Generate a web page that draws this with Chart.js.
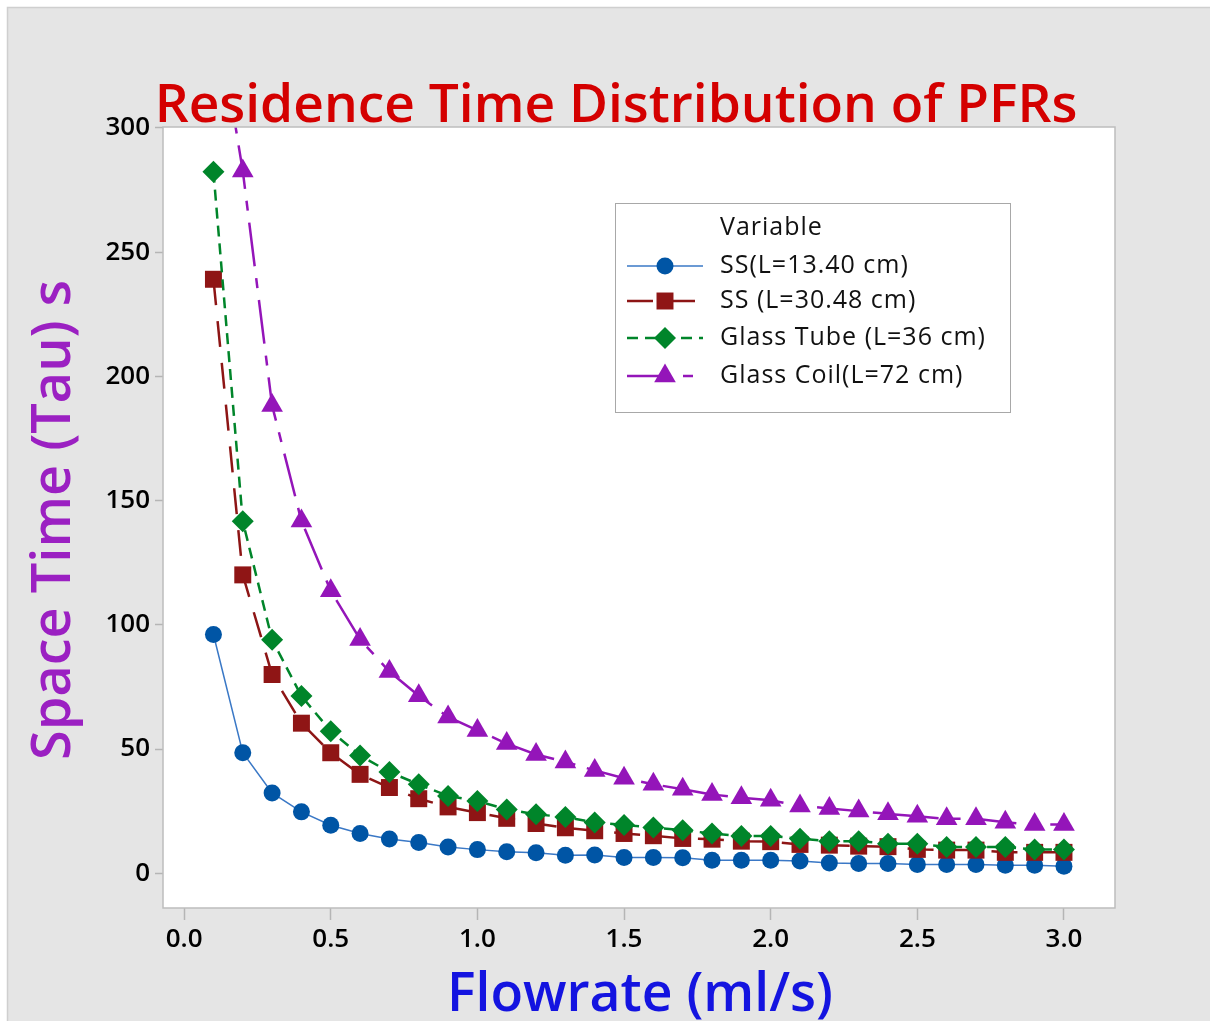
<!DOCTYPE html>
<html>
<head>
<meta charset="utf-8">
<title>Residence Time Distribution of PFRs</title>
<script src="https://cdn.jsdelivr.net/npm/chart.js@4.4.1/dist/chart.umd.min.js"></script>
<style>
  html, body { margin: 0; padding: 0; background: #ffffff; }
  #wrap { width: 1210px; height: 1021px; position: relative; }
</style>
</head>
<body>
<div id="wrap"><canvas id="rtd" width="1210" height="1021"></canvas></div>
<script>

// flowrate (ml/s)
var flowrate = [0.1, 0.2, 0.3, 0.4, 0.5, 0.6, 0.7, 0.8, 0.9, 1.0,
                1.1, 1.2, 1.3, 1.4, 1.5, 1.6, 1.7, 1.8, 1.9, 2.0,
                2.1, 2.2, 2.3, 2.4, 2.5, 2.6, 2.7, 2.8, 2.9, 3.0];

// space time (s)
var ss1340 = [96.1, 48.5, 32.3, 24.7, 19.3, 16.0, 13.8, 12.4, 10.6, 9.5,
              8.6, 8.2, 7.2, 7.3, 6.3, 6.3, 6.2, 5.2, 5.2, 5.2,
              4.9, 4.1, 3.9, 3.9, 3.5, 3.5, 3.5, 3.2, 3.2, 2.8];
var ss3048 = [239.1, 120.1, 80.0, 60.4, 48.5, 39.8, 34.5, 30.0, 26.7, 24.4,
              22.1, 20.0, 18.3, 17.1, 16.0, 15.1, 14.0, 13.7, 12.9, 12.7,
              11.6, 11.3, 10.9, 10.7, 9.6, 9.3, 9.3, 8.4, 8.4, 8.4];
var glassTube = [282.4, 141.7, 94.0, 71.3, 57.2, 47.4, 40.7, 35.8, 31.1, 29.1,
                 25.7, 23.7, 22.6, 20.4, 19.4, 18.4, 17.3, 16.0, 15.0, 15.0,
                 13.9, 12.9, 12.9, 11.9, 11.9, 10.6, 10.6, 10.6, 9.5, 9.5];
var glassCoil = [355, 282.7, 188.3, 141.8, 113.7, 94.1, 81.2, 71.4, 62.9, 57.5,
                 52.2, 47.8, 44.8, 41.4, 38.2, 35.8, 33.8, 31.7, 30.4, 29.4,
                 27.1, 26.1, 25.0, 23.9, 22.9, 21.9, 21.9, 20.5, 19.6, 19.6];

var seriesNames = ["SS(L=13.40 cm)", "SS (L=30.48 cm)", "Glass Tube (L=36 cm)", "Glass Coil(L=72 cm)"];
var xTicks = [0.0, 0.5, 1.0, 1.5, 2.0, 2.5, 3.0];
var yTicks = [0, 50, 100, 150, 200, 250, 300];

var FONT = "'Open Sans', 'Noto Sans', 'DejaVu Sans', sans-serif";

function points(ys){
	return flowrate.map(function(x, i){ return {x: x, y: ys[i]}; });
}

// marker drawing shared by the legend
function marker(ctx, style, r, x, y, color){
	ctx.save();
	ctx.setLineDash([]);
	ctx.fillStyle = color;
	ctx.beginPath();
	if (style === 'circle') {
		ctx.arc(x, y, r, 0, Math.PI * 2);
	} else if (style === 'rect') {
		var s = Math.SQRT1_2 * r;
		ctx.rect(x - s, y - s, 2 * s, 2 * s);
	} else if (style === 'rectRot') {
		ctx.moveTo(x, y - r); ctx.lineTo(x + r, y); ctx.lineTo(x, y + r); ctx.lineTo(x - r, y);
		ctx.closePath();
	} else if (style === 'triangle') {
		ctx.moveTo(x, y - r);
		ctx.lineTo(x + r * Math.sin(Math.PI / 3), y + r * 0.5);
		ctx.lineTo(x - r * Math.sin(Math.PI / 3), y + r * 0.5);
		ctx.closePath();
	}
	ctx.fill();
	ctx.restore();
}

function fitFont(ctx, text, weight, width){
	ctx.font = weight + " 100px " + FONT;
	var w = ctx.measureText(text).width;
	return 100 * width / w;
}

var framePlugin = {
	id: 'frame',
	beforeDraw: function(chart){
		var ctx = chart.ctx, a = chart.chartArea;
		ctx.save();
		ctx.fillStyle = '#ffffff';
		ctx.fillRect(0, 0, chart.width, chart.height);
		ctx.fillStyle = '#e5e5e5';
		ctx.fillRect(7, 7, chart.width - 7, chart.height - 7);
		ctx.strokeStyle = '#cfcfcf';
		ctx.lineWidth = 1.5;
		ctx.beginPath();
		ctx.moveTo(7.5, chart.height); ctx.lineTo(7.5, 7.5); ctx.lineTo(chart.width, 7.5);
		ctx.stroke();
		ctx.fillStyle = '#ffffff';
		ctx.fillRect(a.left, a.top, a.right - a.left, a.bottom - a.top);
		ctx.restore();
	},
	afterDatasetsDraw: function(chart){
		var ctx = chart.ctx, a = chart.chartArea;
		ctx.save();
		ctx.strokeStyle = '#bdbdbd';
		ctx.lineWidth = 1.5;
		ctx.strokeRect(a.left, a.top, a.right - a.left, a.bottom - a.top);
		ctx.restore();
	},
	afterDraw: function(chart){
		var ctx = chart.ctx;
		ctx.save();

		// main title
		var t = "Residence Time Distribution of PFRs";
		ctx.font = "600 " + fitFont(ctx, t, "600", 923) + "px " + FONT;
		ctx.fillStyle = '#d40000';
		ctx.textAlign = 'center';
		ctx.textBaseline = 'alphabetic';
		ctx.fillText(t, 616, 122);

		// x title
		var xt = "Flowrate (ml/s)";
		ctx.font = "600 " + fitFont(ctx, xt, "600", 386) + "px " + FONT;
		ctx.fillStyle = '#1414e0';
		ctx.fillText(xt, 640, 1011);

		// y title
		var yt = "Space Time (Tau) s";
		ctx.font = "600 " + fitFont(ctx, yt, "600", 480) + "px " + FONT;
		ctx.fillStyle = '#9b20c2';
		ctx.translate(70, 520);
		ctx.rotate(-Math.PI / 2);
		ctx.fillText(yt, 0, 0);
		ctx.restore();

		// legend box
		ctx.save();
		ctx.fillStyle = '#ffffff';
		ctx.fillRect(615, 203, 395, 209);
		ctx.strokeStyle = '#a8a8a8';
		ctx.lineWidth = 1;
		ctx.strokeRect(615.5, 203.5, 395, 209);
		ctx.font = "25px " + FONT;
		if ('letterSpacing' in ctx) ctx.letterSpacing = '1px';
		ctx.fillStyle = '#111111';
		ctx.textAlign = 'left';
		ctx.textBaseline = 'middle';
		ctx.fillText("Variable", 720, 228);
		var rows = [266, 301, 338, 376];
		chart.data.datasets.forEach(function(ds, i){
			var y = rows[i];
			ctx.save();
			ctx.strokeStyle = ds.borderColor;
			ctx.lineWidth = ds.borderWidth;
			ctx.setLineDash(ds.borderDash || []);
			ctx.beginPath();
			ctx.moveTo(627, y); ctx.lineTo(703, y);
			ctx.stroke();
			ctx.restore();
			marker(ctx, ds.pointStyle, ds.pointRadius, 665, y, ds.pointBackgroundColor);
			ctx.fillStyle = '#111111';
			ctx.fillText(ds.label, 720, y);
		});
		ctx.restore();
	}
};

var ctx = document.getElementById("rtd");
var rtdChart = new Chart(ctx, {
	type: 'line',
	data: {
		datasets: [
		{
			label: seriesNames[0],
			data: points(ss1340),
			borderColor: '#3a78c6',
			borderWidth: 1.5,
			pointStyle: 'circle',
			pointRadius: 8.5,
			pointBackgroundColor: '#0055a5',
			pointBorderColor: '#0055a5',
			pointBorderWidth: 0,
			order: 4
		},
		{
			label: seriesNames[1],
			data: points(ss3048),
			borderColor: '#8d1515',
			borderWidth: 2.5,
			borderDash: [26, 16],
			pointStyle: 'rect',
			pointRadius: 12,
			pointBackgroundColor: '#8f1515',
			pointBorderColor: '#8f1515',
			pointBorderWidth: 0,
			order: 3
		},
		{
			label: seriesNames[2],
			data: points(glassTube),
			borderColor: '#00852a',
			borderWidth: 2.5,
			borderDash: [11, 7],
			pointStyle: 'rectRot',
			pointRadius: 11,
			pointBackgroundColor: '#00852a',
			pointBorderColor: '#00852a',
			pointBorderWidth: 0,
			order: 2
		},
		{
			label: seriesNames[3],
			data: points(glassCoil),
			borderColor: '#9415b9',
			borderWidth: 2.5,
			borderDash: [44, 12, 10, 12],
			pointStyle: 'triangle',
			pointRadius: 12.5,
			pointBackgroundColor: '#9415b9',
			pointBorderColor: '#9415b9',
			pointBorderWidth: 0,
			order: 1
		}
		]
	},
	options: {
		responsive: false,
		animation: false,
		devicePixelRatio: 1,
		layout: { padding: { left: 0, top: 127, right: 95, bottom: 0 } },
		elements: { line: { tension: 0, fill: false } },
		plugins: {
			legend: { display: false },
			title: { display: false },
			tooltip: { enabled: false }
		},
		scales: {
			x: {
				type: 'linear',
				min: -0.072,
				max: 3.174,
				afterBuildTicks: function(scale){
					scale.ticks = xTicks.map(function(v){ return {value: v}; });
				},
				afterFit: function(scale){ scale.height = 113; },
				grid: { drawOnChartArea: false, drawTicks: true, tickLength: 12, tickColor: '#b5b5b5', tickWidth: 1.5 },
				border: { display: false },
				ticks: {
					autoSkip: false,
					maxRotation: 0,
					padding: 4,
					color: '#000000',
					font: { family: FONT, size: 26, weight: '600' },
					callback: function(v){ return Number(v).toFixed(1); }
				}
			},
			y: {
				type: 'linear',
				min: -14,
				max: 300.4,
				afterBuildTicks: function(scale){
					scale.ticks = yTicks.map(function(v){ return {value: v}; });
				},
				afterFit: function(scale){ scale.width = 163; },
				grid: { drawOnChartArea: false, drawTicks: true, tickLength: 8, tickColor: '#b5b5b5', tickWidth: 1.5 },
				border: { display: false },
				ticks: {
					autoSkip: false,
					padding: 5,
					color: '#000000',
					font: { family: FONT, size: 26, weight: '600' },
					callback: function(v){ return String(v); }
				}
			}
		}
	},
	plugins: [framePlugin]
});

</script>
</body>
</html>
